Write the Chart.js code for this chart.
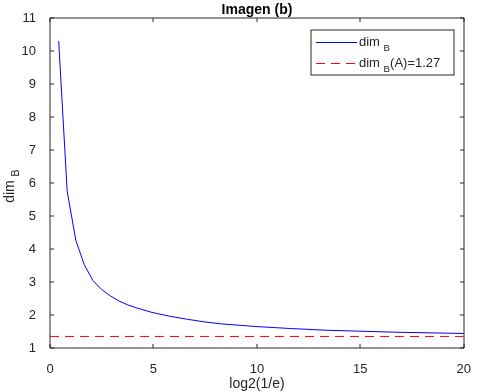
<!DOCTYPE html>
<html lang="es">
<head>
<meta charset="UTF-8">
<title>Imagen (b)</title>
<script src="https://cdn.jsdelivr.net/npm/chart.js"></script>
<style>
    html, body { margin: 0; padding: 0; background: #fff; }
    #wrap { width: 477px; height: 392px; }
</style>
</head>
<body>
<div id="wrap"><canvas id="grafico" width="477" height="392"></canvas></div>
<script>
// datos
const logInvE = [0.42, 0.83, 1.25, 1.66, 2.08, 2.5, 2.91, 3.32, 3.74, 4.16, 4.98, 5.82, 6.64, 7.48, 8.3, 9.96, 11.63, 13.29, 14.95, 16.61, 18.27, 20];
const dimB    = [10.30, 5.75, 4.26, 3.52, 3.04, 2.77, 2.58, 2.43, 2.31, 2.22, 2.07, 1.96, 1.87, 1.79, 1.73, 1.65, 1.59, 1.54, 1.51, 1.48, 1.46, 1.44];
const refX    = [0, 20];
const refDim  = [1.35, 1.35];
const xTicks  = [0, 5, 10, 15, 20];
const yTicks  = [1, 2, 3, 4, 5, 6, 7, 8, 9, 10, 11];
const titulo  = 'Imagen (b)';
const xLabel  = 'log2(1/e)';
const refTexto = '(A)=1.27';

const FUENTE = "'Liberation Sans', Arial, sans-serif";
const GRIS = '#262626';

// texto con subindice
function textoSub(ctx, partes, x, y, size) {
    let cx = x;
    partes.forEach(p => {
        const s = p.sub ? size * 0.75 : size;
        ctx.font = s + 'px ' + FUENTE;
        ctx.fillText(p.t, cx, p.sub ? y + size * 0.35 : y);
        cx += ctx.measureText(p.t).width;
    });
    return cx - x;
}

const ejesMatlab = {
    id: 'ejesMatlab',
    afterDraw(chart) {
        const { ctx, chartArea: a, scales: { x, y } } = chart;
        const L = Math.round(a.left), R = Math.round(a.right);
        const T = Math.round(a.top), B = Math.round(a.bottom);
        ctx.save();
        ctx.strokeStyle = GRIS;
        ctx.lineWidth = 1;
        ctx.beginPath();
        ctx.rect(L, T, R - L, B - T);
        xTicks.forEach(v => {
            const px = Math.round(x.getPixelForValue(v));
            ctx.moveTo(px, B); ctx.lineTo(px, B - 4);
            ctx.moveTo(px, T); ctx.lineTo(px, T + 4);
        });
        yTicks.forEach(v => {
            const py = Math.round(y.getPixelForValue(v));
            ctx.moveTo(L, py); ctx.lineTo(L + 4, py);
            ctx.moveTo(R, py); ctx.lineTo(R - 4, py);
        });
        ctx.stroke();

        // titulo
        ctx.fillStyle = '#000';
        ctx.font = 'bold 14px ' + FUENTE;
        ctx.textAlign = 'center';
        ctx.textBaseline = 'alphabetic';
        ctx.fillText(titulo, (L + R) / 2, T - 4);

        // etiqueta x
        ctx.fillStyle = GRIS;
        ctx.font = '14px ' + FUENTE;
        ctx.fillText(xLabel, (L + R) / 2, B + 40);

        // etiqueta y rotada
        ctx.save();
        ctx.textAlign = 'left';
        ctx.translate(14, (T + B) / 2 + 4);
        ctx.rotate(-Math.PI / 2);
        ctx.font = '14px ' + FUENTE;
        const w = ctx.measureText('dim ').width + 10 * 0.75 * 0.7;
        textoSub(ctx, [{ t: 'dim ' }, { t: 'B', sub: true }], -w / 2, 0, 14);
        ctx.restore();

        // leyenda
        const lx = R - 153, ly = T + 12, lw = 143, lh = 45;
        ctx.fillStyle = '#fff';
        ctx.fillRect(lx, ly, lw, lh);
        ctx.strokeStyle = GRIS;
        ctx.strokeRect(lx, ly, lw, lh);
        ctx.lineWidth = 1;
        ctx.strokeStyle = '#0000ff';
        ctx.beginPath();
        ctx.moveTo(lx + 5, ly + 12.5); ctx.lineTo(lx + 46, ly + 12.5);
        ctx.stroke();
        ctx.strokeStyle = '#ff0000';
        ctx.setLineDash([9, 6]);
        ctx.beginPath();
        ctx.moveTo(lx + 5, ly + 33.5); ctx.lineTo(lx + 44, ly + 33.5);
        ctx.stroke();
        ctx.setLineDash([]);
        ctx.fillStyle = GRIS;
        ctx.textAlign = 'left';
        textoSub(ctx, [{ t: 'dim ' }, { t: 'B', sub: true }], lx + 48, ly + 16, 13);
        textoSub(ctx, [{ t: 'dim ' }, { t: 'B', sub: true }, { t: refTexto }], lx + 48, ly + 37, 13);
        ctx.restore();
    }
};

const ctx = document.getElementById('grafico').getContext('2d');
new Chart(ctx, {
    type: 'line',
    data: {
        datasets: [
            {
                label: 'dim B',
                data: logInvE.map((v, i) => ({ x: v, y: dimB[i] })),
                borderColor: '#0000ff',
                borderWidth: 1,
                pointRadius: 0,
                tension: 0,
                fill: false
            },
            {
                label: 'dim B(A)=1.27',
                data: refX.map((v, i) => ({ x: v, y: refDim[i] })),
                borderColor: '#ff0000',
                borderWidth: 1,
                borderDash: [9, 6],
                pointRadius: 0,
                fill: false
            }
        ]
    },
    options: {
        responsive: false,
        animation: false,
        layout: { padding: { top: 18, right: 9, left: 0, bottom: 0 } },
        plugins: {
            legend: { display: false },
            title: { display: false },
            tooltip: { enabled: false }
        },
        scales: {
            x: {
                type: 'linear',
                min: 0, max: 20,
                grid: { display: false },
                border: { display: false },
                ticks: { stepSize: 5, padding: 6, color: GRIS, font: { family: FUENTE, size: 13 } },
                afterFit: s => { s.height = 44; }
            },
            y: {
                min: 1, max: 11,
                grid: { display: false },
                border: { display: false },
                ticks: { stepSize: 1, padding: 6, color: GRIS, font: { family: FUENTE, size: 13 } },
                afterFit: s => { s.width = 50; }
            }
        }
    },
    plugins: [ejesMatlab]
});
</script>
</body>
</html>
